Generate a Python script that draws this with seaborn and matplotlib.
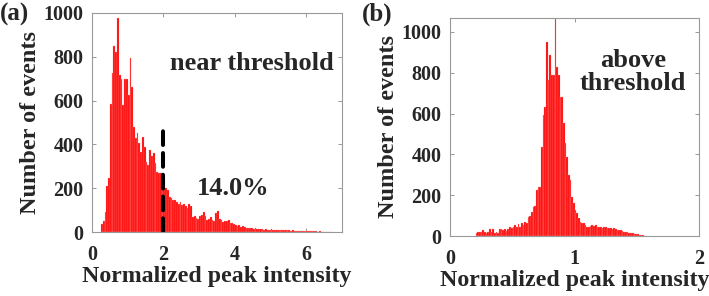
import numpy as np
import pandas as pd
import matplotlib
matplotlib.use("Agg")
import matplotlib.pyplot as plt
import seaborn as sns

# ---------------- data ----------------
# (a) near threshold: histogram, bin width 0.05 starting at 0.25
left_bin_start = 0.25
left_bin_width = 0.05
left_counts = [
    35, 50, 90, 210, 245, 585, 725, 850, 820, 975,
    715, 700, 580, 700, 700, 625, 795, 660, 480, 430,
    450, 405, 365, 435, 390, 320, 305, 375, 347, 360,
    315, 275, 270, 270, 247, 247, 200, 192, 160, 155,
    146, 146, 137, 128, 137, 123, 128, 119, 110, 130,
    117, 68, 73, 64, 60, 73, 78, 91, 73, 55,
    60, 70, 55, 50, 85, 95, 60, 55, 45, 50,
    48, 55, 40, 42, 38, 30, 28, 32, 25, 28,
    22, 20, 18, 20, 17, 15, 18, 14, 13, 15,
    12, 11, 13, 10, 11, 12, 9, 10, 8, 10,
    9, 8, 9, 7, 8, 7, 6, 7, 6, 5,
    6, 5, 5, 4, 5, 4, 4, 3, 4, 3,
    3, 2, 3, 2, 2, 2, 1, 2, 1, 1,
]
threshold_x = [2.0, 2.0]
threshold_y = [0, 475]
left_xticks = [0, 2, 4, 6]
left_yticks = [0, 200, 400, 600, 800, 1000]

# (b) above threshold: histogram, bin width 0.0135 starting at 0.205
right_bin_start = 0.205
right_bin_width = 0.0135
right_counts = [
    15, 22, 18,
    21, 29, 21, 16, 21, 33, 21, 33, 16, 21, 13, 33, 34, 29, 34, 25, 36, 42,
    38, 46, 54, 46, 59, 42, 62, 54, 70, 65, 91, 98, 119, 140, 146, 225, 242, 240,
    438, 593, 634, 952, 765, 887, 789, 790, 1062, 830, 789, 683, 680, 553, 455,
    389, 299, 274, 193, 162, 127, 113, 90, 70, 64, 64, 54, 44, 44,
    50, 52, 48, 54, 46, 44, 45, 40, 42, 44, 38, 40, 39, 36, 38, 33, 30, 29,
    27, 25, 22, 20, 18, 16, 15, 14, 12, 10, 8, 6, 5, 3,
]
right_xticks = [0, 1, 2]
right_yticks = [0, 200, 400, 600, 800, 1000]

xlabel = "Normalized peak intensity"
ylabel = "Number of events"

# ---------------- style ----------------
sns.set_theme(style="ticks")
plt.rcParams["font.family"] = ["Liberation Serif", "DejaVu Serif"]
plt.rcParams["font.weight"] = "bold"
plt.rcParams["axes.labelweight"] = "bold"

fig = plt.figure(figsize=(7.09, 2.96), dpi=100)
ax1 = fig.add_axes([0.1298, 0.2162, 0.3526, 0.7399])
ax2 = fig.add_axes([0.6347, 0.2027, 0.3512, 0.7365])

bar_face = "#ff0000"
bar_edge = "#ffa0a0"


def draw_hist(ax, start, width, counts):
    n = len(counts)
    centers = start + width * (np.arange(n) + 0.5)
    df = pd.DataFrame({"x": centers, "w": np.asarray(counts, dtype=float)})
    sns.histplot(data=df, x="x", weights="w", binwidth=width,
                 binrange=(start, start + width * n), ax=ax,
                 color=bar_face, edgecolor=bar_edge, linewidth=0.22,
                 alpha=1.0, legend=False)


draw_hist(ax1, left_bin_start, left_bin_width, left_counts)
ax1.plot(threshold_x, threshold_y, color="black", lw=2.9,
         linestyle=(0, (3.4, 2.0)), dash_capstyle="round")
ax1.set_xlim(0, 7)
ax1.set_ylim(0, 1000)
ax1.set_xticks(left_xticks)
ax1.set_yticks(left_yticks)
ax1.text(4.47, 770, "near threshold", ha="center", va="center",
         fontsize=19, fontweight="bold")
ax1.text(3.94, 200, "14.0%", ha="center", va="center",
         fontsize=19, fontweight="bold")

draw_hist(ax2, right_bin_start, right_bin_width, right_counts)
ax2.set_xlim(0, 2)
ax2.set_ylim(0, 1068)
ax2.set_xticks(right_xticks)
ax2.set_yticks(right_yticks)
ax2.text(1.47, 803, "above\nthreshold", ha="center", va="center",
         fontsize=19, fontweight="bold", linespacing=1.0)

for ax in (ax1, ax2):
    ax.set_xlabel(xlabel, fontsize=17.2, fontweight="bold", labelpad=1)
    ax.set_ylabel(ylabel, fontsize=17.5, fontweight="bold", labelpad=2)
    ax.tick_params(direction="in", length=3, width=0.6, color="#888888",
                   top=True, right=True, labelsize=14.5)
    ax.tick_params(axis="x", pad=9)
    ax.tick_params(axis="y", pad=6)
    for lab in ax.get_xticklabels() + ax.get_yticklabels():
        lab.set_fontweight("bold")
    for sp in ax.spines.values():
        sp.set_visible(True)
        sp.set_color("#999999")
        sp.set_linewidth(0.8)

fig.text(0.0, 0.99, "(a)", ha="left", va="top", fontsize=18,
         fontweight="bold")
fig.text(0.511, 0.99, "(b)", ha="left", va="top", fontsize=18,
         fontweight="bold")

fig.savefig("out.png", dpi=100, facecolor="white")
